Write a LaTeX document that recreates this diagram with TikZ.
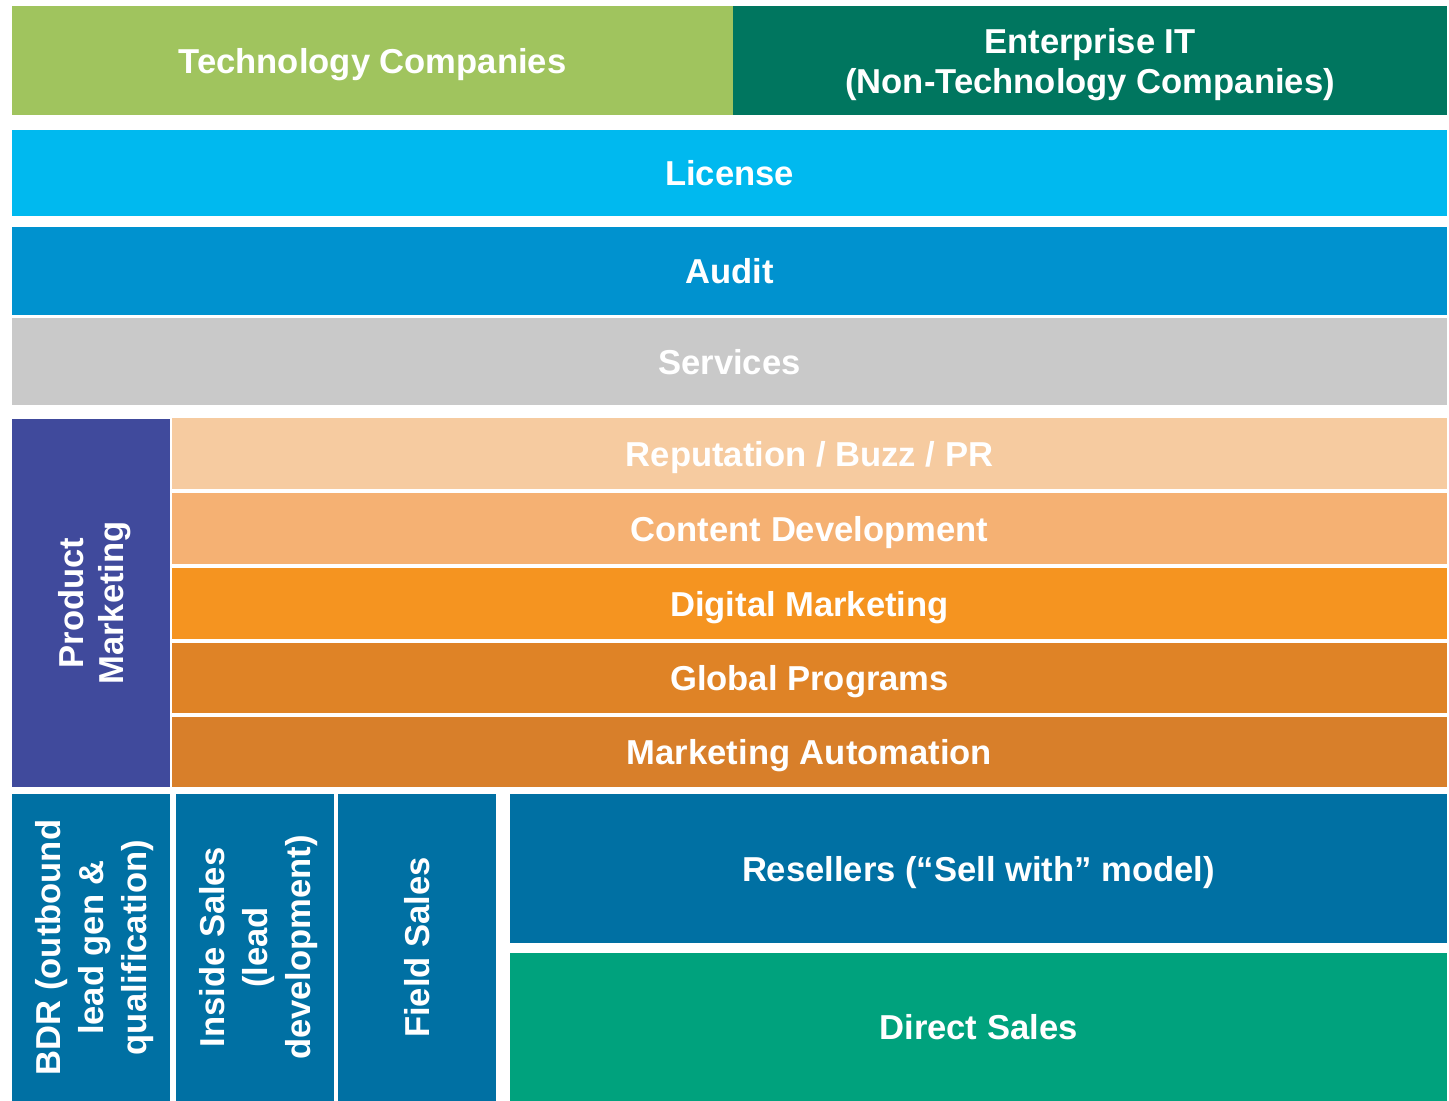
\documentclass[tikz,border=0pt]{standalone}
\usepackage{fontspec}
\setmainfont{Liberation Sans}
\begin{document}
\definecolor{cTech}{HTML}{A0C45E}
\definecolor{cEnt}{HTML}{00765F}
\definecolor{cLic}{HTML}{00B9EF}
\definecolor{cAud}{HTML}{0092CF}
\definecolor{cSrv}{HTML}{C9C9C9}
\definecolor{cPM}{HTML}{404A9C}
\definecolor{cRep}{HTML}{F6CBA0}
\definecolor{cCon}{HTML}{F5B173}
\definecolor{cDig}{HTML}{F59420}
\definecolor{cGlo}{HTML}{DF8326}
\definecolor{cAut}{HTML}{D87F2A}
\definecolor{cSal}{HTML}{0070A3}
\definecolor{cDir}{HTML}{00A27D}
% block: name, x1, y1, x2, y2 (pixel grid), fill colour, text
\newcommand\blk[7]{%
  \pgfmathsetmacro\bw{(#4-#2)*0.5}%
  \pgfmathsetmacro\bh{(#5-#3)*0.5}%
  \node[blk, fill=#6, minimum width=\bw pt, minimum height=\bh pt] (#1)
    at ({(#2+#4)/2},{(#3+#5)/2}) {#7};}
\begin{tikzpicture}[x=0.5pt, y=-0.5pt,
  blk/.style={inner sep=0pt, outer sep=0pt, draw=none, text=white,
    font=\fontsize{17.3}{20}\selectfont\bfseries, align=center,
    text depth=0pt},
  vlabel/.style={rotate=90, text=white, inner sep=0pt, text depth=0pt,
    font=\fontsize{17.3}{21.5}\selectfont\bfseries, align=center}]
\useasboundingbox (0,0) rectangle (1449,1101);
\blk{tech}{12}{6}{733}{115}{cTech}{Technology Companies}
\blk{ent}{733}{6}{1447}{115}{cEnt}{Enterprise IT\\(Non-Technology Companies)}
\blk{lic}{12}{130}{1447}{216}{cLic}{License}
\blk{aud}{12}{227}{1447}{315}{cAud}{Audit}
\blk{srv}{12}{318}{1447}{405}{cSrv}{Services}
\blk{pm}{12}{419}{170}{787}{cPM}{}
\node[vlabel, font=\fontsize{17.3}{20}\selectfont\bfseries] (pmtext) at (pm.center) {Product\\Marketing};
\blk{rep}{172}{418}{1447}{489}{cRep}{Reputation / Buzz / PR}
\blk{con}{172}{493}{1447}{564}{cCon}{Content Development}
\blk{dig}{172}{568}{1447}{639}{cDig}{Digital Marketing}
\blk{glo}{172}{643}{1447}{713}{cGlo}{Global Programs}
\blk{aut}{172}{717}{1447}{787}{cAut}{Marketing Automation}
\blk{bdr}{12}{794}{170}{1101}{cSal}{}
\node[vlabel] (bdrtext) at (bdr.center) {BDR (outbound\\lead gen \&\\qualification)};
\blk{ins}{176}{794}{334}{1101}{cSal}{}
\node[vlabel] (instext) at (ins.center) {Inside Sales\\(lead\\development)};
\blk{fld}{338}{794}{496}{1101}{cSal}{}
\node[vlabel] (fldtext) at (fld.center) {Field Sales};
\blk{res}{510}{794}{1447}{943}{cSal}{Resellers (“Sell with” model)}
\blk{dir}{510}{953}{1447}{1101}{cDir}{Direct Sales}
\end{tikzpicture}
\end{document}
